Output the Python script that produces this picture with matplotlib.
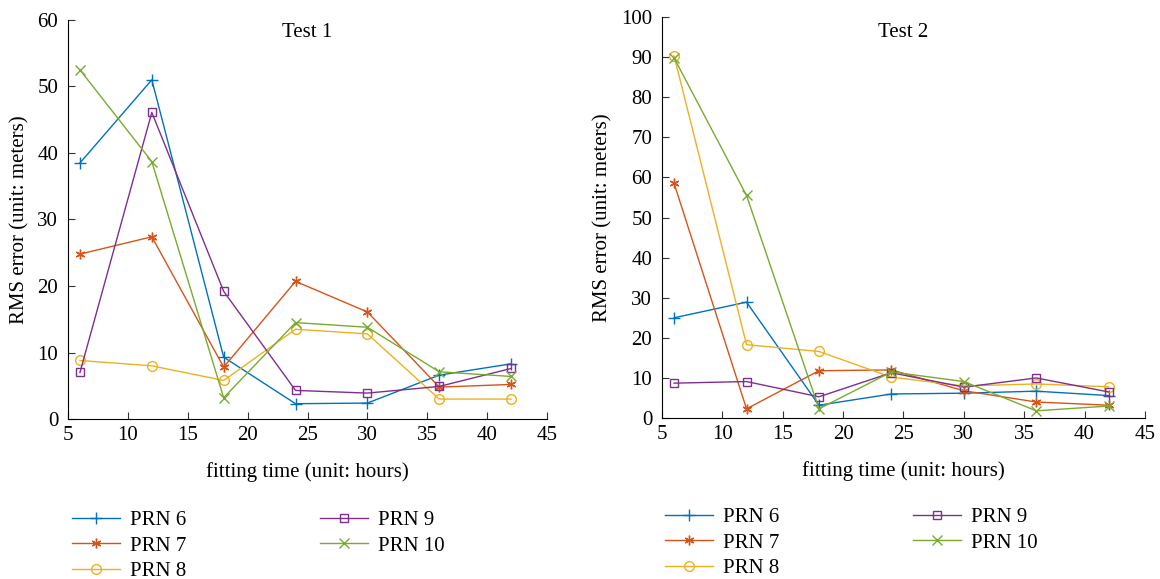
import matplotlib.pyplot as plt

plt.rcParams['font.family'] = ['Liberation Serif', 'DejaVu Serif']

hours = [6, 12, 18, 24, 30, 36, 42]
labels = ["PRN 6", "PRN 7", "PRN 8", "PRN 9", "PRN 10"]

# Test 1 values (meters)
t1_prn6 = [38.5, 51.0, 9.3, 2.3, 2.4, 6.6, 8.3]
t1_prn7 = [24.8, 27.4, 7.8, 20.7, 16.1, 4.8, 5.2]
t1_prn8 = [8.8, 8.0, 5.8, 13.5, 12.8, 3.0, 3.0]
t1_prn9 = [7.0, 46.1, 19.2, 4.3, 3.9, 4.9, 7.6]
t1_prn10 = [52.5, 38.7, 3.2, 14.5, 13.8, 7.1, 6.4]

# Test 2 values (meters)
t2_prn6 = [25.0, 28.9, 3.2, 6.0, 6.2, 6.7, 5.6]
t2_prn7 = [58.5, 2.3, 11.8, 12.0, 6.8, 4.0, 3.2]
t2_prn8 = [90.3, 18.3, 16.6, 10.2, 8.0, 8.5, 7.8]
t2_prn9 = [8.7, 9.1, 5.3, 11.3, 7.7, 10.0, 6.5]
t2_prn10 = [89.8, 55.5, 2.3, 11.5, 9.1, 1.8, 3.0]

colors = ['#0072BD', '#D95319', '#EDB120', '#7E2F8E', '#77AC30']
markers = ['+', (6, 2, 0), 'o', 's', 'x']   # matlab-ish: + * o s x
sizes = [8, 7, 7, 6, 7]

fig = plt.figure(figsize=(11.6, 5.79), dpi=100)
ax1 = fig.add_axes([0.0586, 0.2763, 0.413, 0.6892])
ax2 = fig.add_axes([0.5707, 0.278, 0.4163, 0.6926])


def draw(ax, series, title, ymax, title_y, leg_anchor):
    handles = []
    for vals, c, m, s, lab in zip(series, colors, markers, sizes, labels):
        h, = ax.plot(hours, vals, color=c, marker=m, lw=1.0, ms=s,
                     mfc='none', mew=1.0, label=lab)
        handles.append(h)
    ax.set_xlim(5, 45)
    ax.set_ylim(0, ymax)
    ax.set_xticks(range(5, 50, 5))
    ax.set_yticks(range(0, ymax + 1, 10))
    ax.spines['top'].set_visible(False)
    ax.spines['right'].set_visible(False)
    ax.tick_params(direction='in', labelsize=15, length=5, color='#333333',
                   pad=5)
    ax.tick_params(axis='y', pad=7)
    ax.set_xlabel('fitting time (unit: hours)', fontsize=15, labelpad=12)
    ax.set_ylabel('RMS error (unit: meters)', fontsize=15, labelpad=6)
    ax.text(0.5, title_y, title, transform=ax.transAxes, ha='center',
            va='center', fontsize=15)
    fig.legend(handles=handles, loc='upper left', bbox_to_anchor=leg_anchor,
               ncol=2, frameon=False, fontsize=15, handlelength=2.3,
               handletextpad=0.5, columnspacing=6.4, labelspacing=0.28,
               borderpad=0, borderaxespad=0, numpoints=1)


draw(ax1, [t1_prn6, t1_prn7, t1_prn8, t1_prn9, t1_prn10], 'Test 1', 60,
     0.968, (0.062, 0.118))
draw(ax2, [t2_prn6, t2_prn7, t2_prn8, t2_prn9, t2_prn10], 'Test 2', 100,
     0.962, (0.573, 0.123))

fig.savefig('out.png', dpi=100)
